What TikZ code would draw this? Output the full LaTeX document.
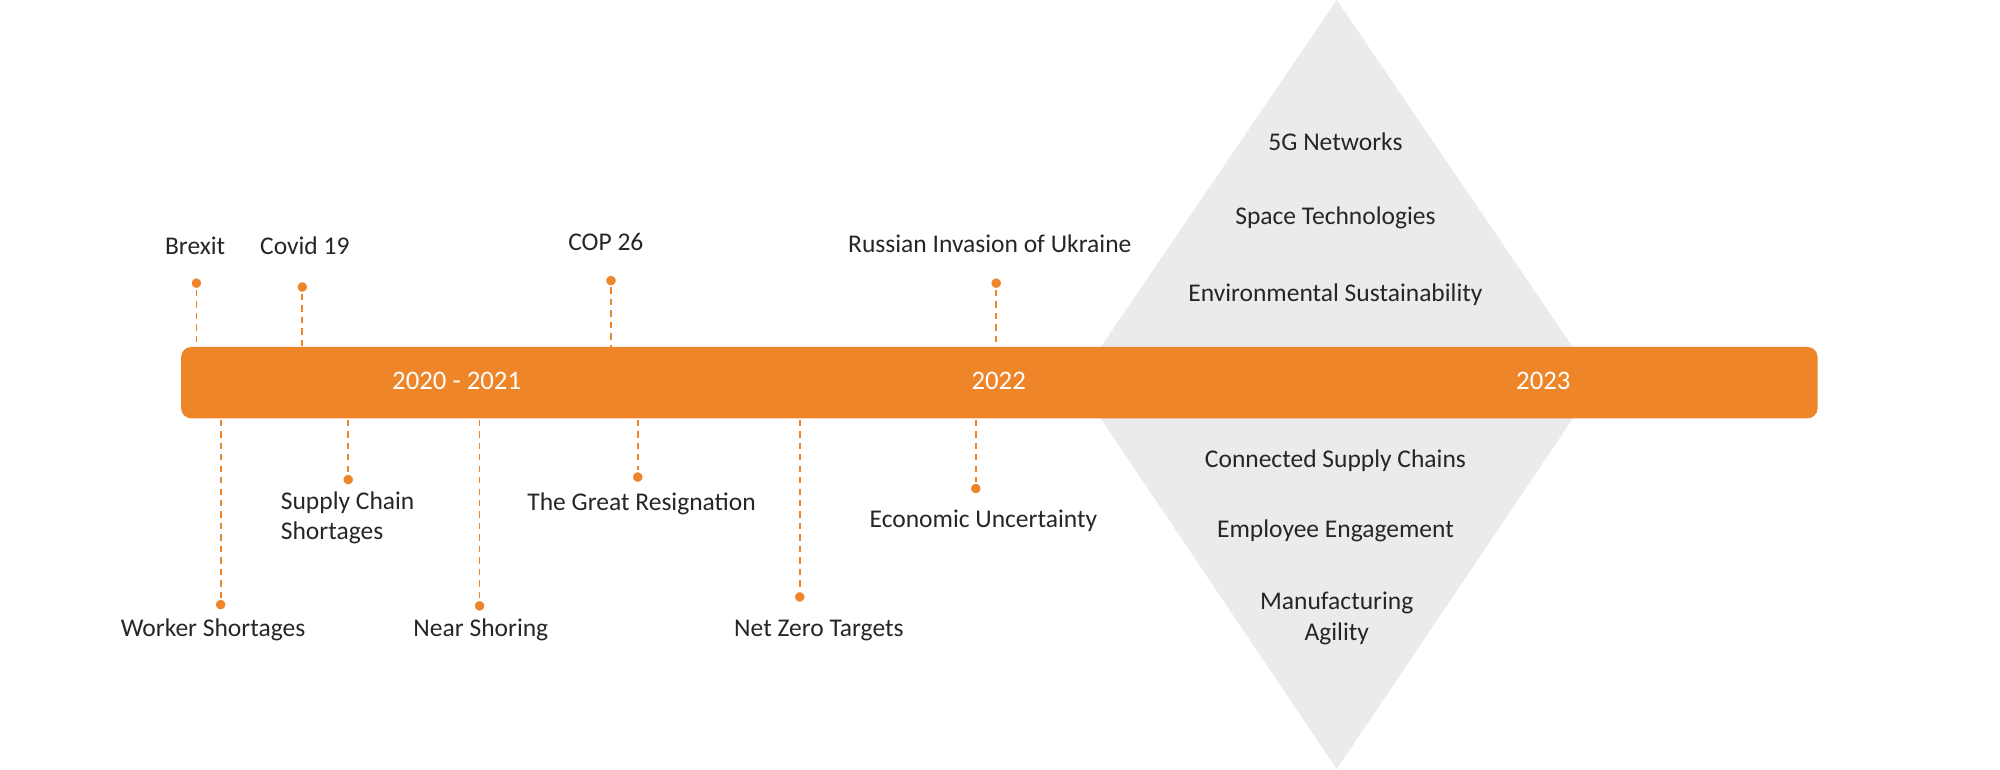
\documentclass[tikz,border=0pt]{standalone}
\usepackage{fontspec}
\setmainfont{Carlito}
\definecolor{org}{HTML}{EE8529}
\definecolor{gry}{HTML}{EBEBEB}
\tikzset{x=1pt,y=-1pt,
 lbl/.style={font=\fontsize{20}{24}\selectfont,text=black!85,inner sep=0pt},
 yr/.style={font=\fontsize{21}{24}\selectfont,text=white,inner sep=0pt},
 conn/.style={draw=org,line width=1.4pt,dash pattern=on 5pt off 4pt},
 dotm/.style={circle,fill=org,draw=white,line width=1.5pt,minimum size=9pt,inner sep=0pt}}
\begin{document}
\begin{tikzpicture}
\useasboundingbox (0,0) rectangle (1568,603);
\fill[gry] (1048,0) -- (1252,300) -- (1048,603) -- (844,300) -- cycle;
\node[draw=none,fill=org,rounded corners=8pt,minimum width=1283pt,minimum height=56pt,inner sep=0pt] (bar) at (783.5,300) {};
\node[yr] (y1) at (358,299) {2020 - 2021};
\node[yr] (y2) at (783,299) {2022};
\node[yr] (y3) at (1210,299) {2023};
\foreach \t/\y [count=\i] in {5G Networks/111,Space Technologies/171,Environmental Sustainability/231,Connected Supply Chains/361,Employee Engagement/416}
  \node[lbl] (d\i) at (1047,\y) {\t};
\node[lbl,align=center,font=\fontsize{20}{24}\selectfont] (d6) at (1048,485) {Manufacturing\\Agility};
% top events
\foreach \n/\x/\dy/\tx/\ty/\t in {a/154/222/153/193/Brexit,b/237/225/239/193/Covid 19,c/479/220/475/190/COP 26,d/781/222/776/191/Russian Invasion of Ukraine}{
  \node[lbl] (t\n) at (\tx,\ty) {\t};
  \node[dotm] (p\n) at (\x,\dy) {};
  \coordinate (q\n) at (\x,272);
  \draw[conn] (p\n) -- (q\n);
}
% bottom events
\foreach \n/\x/\dy/\tx/\ty/\t in {e/173/474/167/494/Worker Shortages,g/376/475/377/494/Near Shoring,h/500/374/503/395/The Great Resignation,i/627/468/642/494/Net Zero Targets,j/765/383/771/408/Economic Uncertainty}{
  \node[lbl] (t\n) at (\tx,\ty) {\t};
  \node[dotm] (p\n) at (\x,\dy) {};
  \coordinate (q\n) at (\x,329);
  \draw[conn] (q\n) -- (p\n);
}
\node[dotm] (pf) at (273,376) {};
\coordinate (qf) at (273,329);
\draw[conn] (qf) -- (pf);
\node[lbl,align=left,anchor=north west] (tf) at (220,385) {Supply Chain\\Shortages};
\end{tikzpicture}
\end{document}
